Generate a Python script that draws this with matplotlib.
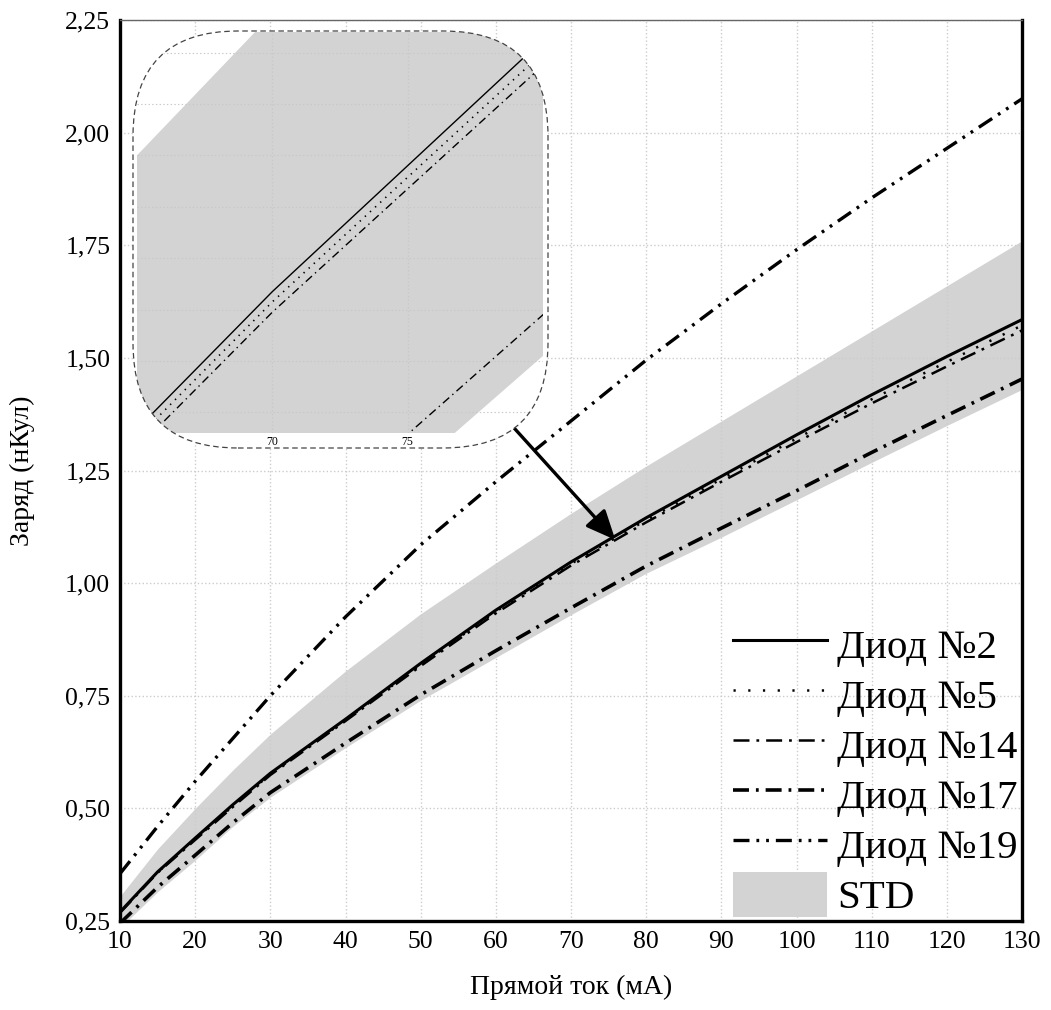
import matplotlib
matplotlib.use("Agg")
import matplotlib.pyplot as plt
from matplotlib.patches import FancyBboxPatch
from matplotlib.ticker import FuncFormatter, MultipleLocator

plt.rcParams["font.family"] = ["Liberation Serif", "DejaVu Serif"]
plt.rcParams["lines.scale_dashes"] = False

# forward current, mA
current_ma = [10, 15, 20, 25, 30, 40, 50, 60, 70, 80, 90, 100, 110, 120, 130]

# recovered charge, nC
diode_2 = [0.270, 0.359, 0.434, 0.508, 0.578, 0.698, 0.822, 0.940, 1.047, 1.145, 1.237, 1.329, 1.418, 1.503, 1.585]
diode_5 = [0.270, 0.358, 0.432, 0.505, 0.576, 0.696, 0.819, 0.937, 1.043, 1.140, 1.231, 1.321, 1.408, 1.491, 1.572]
diode_14 = [0.268, 0.357, 0.430, 0.503, 0.574, 0.694, 0.816, 0.933, 1.039, 1.135, 1.225, 1.313, 1.399, 1.481, 1.561]
diode_17 = [0.245, 0.325, 0.396, 0.468, 0.535, 0.645, 0.752, 0.850, 0.945, 1.038, 1.122, 1.205, 1.290, 1.372, 1.453]
diode_19 = [0.355, 0.460, 0.560, 0.655, 0.750, 0.925, 1.085, 1.225, 1.360, 1.495, 1.620, 1.740, 1.855, 1.965, 2.075]

std_upper = [0.305, 0.410, 0.500, 0.585, 0.665, 0.805, 0.932, 1.045, 1.155, 1.260, 1.360, 1.460, 1.560, 1.660, 1.760]
std_lower = [0.235, 0.315, 0.385, 0.460, 0.525, 0.635, 0.740, 0.835, 0.930, 1.022, 1.102, 1.185, 1.268, 1.350, 1.430]

series = [
    ("Диод №2", diode_2, dict(ls="-", lw=2.2)),
    ("Диод №5", diode_5, dict(ls=(0, (1.6, 9.0)), lw=1.8)),
    ("Диод №14", diode_14, dict(ls=(0, (11.5, 5.0, 2.0, 5.0)), lw=1.8)),
    ("Диод №17", diode_17, dict(ls=(0, (11.5, 5.0, 2.0, 5.0)), lw=2.6)),
    ("Диод №19", diode_19, dict(ls=(0, (11.5, 5.0, 2.0, 5.0, 2.0, 5.0)), lw=2.4)),
]

# thinner versions for the magnified view
inset_styles = {
    "Диод №2": dict(ls="-", lw=1.0),
    "Диод №5": dict(ls=(0, (1.0, 4.0)), lw=1.2),
    "Диод №14": dict(ls=(0, (6.0, 3.0, 1.0, 3.0)), lw=1.0),
    "Диод №17": dict(ls=(0, (6.0, 3.0, 1.0, 3.0)), lw=1.0),
    "Диод №19": dict(ls=(0, (6.0, 3.0, 1.0, 3.0, 1.0, 3.0)), lw=1.0),
}

comma = FuncFormatter(lambda v, pos: f"{v:.2f}".replace(".", ","))

W, H = 1051, 1010
fig = plt.figure(figsize=(W / 100, H / 100), dpi=100)
ax = fig.add_axes([120 / W, 1 - 921 / H, 902 / W, 901 / H])

band = ax.fill_between(current_ma, std_lower, std_upper, color="#d3d3d3",
                       lw=0, label="STD", zorder=1)
handles = []
for name, values, style in series:
    (ln,) = ax.plot(current_ma, values, color="black", label=name, zorder=3,
                    **style)
    handles.append(ln)
handles.append(band)

ax.set_xlim(10, 130)
ax.set_ylim(0.25, 2.25)
ax.xaxis.set_major_locator(MultipleLocator(10))
ax.yaxis.set_major_locator(MultipleLocator(0.25))
ax.yaxis.set_major_formatter(comma)
ax.tick_params(length=0, labelsize=18.5, pad=7)
ax.set_axisbelow("line")
ax.grid(True, color="#cccccc", ls=":", lw=1.0)
for side in ("left", "bottom", "right"):
    ax.spines[side].set_linewidth(2.4)
ax.spines["top"].set_linewidth(1.0)
ax.spines["top"].set_color("#666666")

ax.set_xlabel("Прямой ток (мА)", fontsize=20, labelpad=16)
ax.set_ylabel("Заряд (нКул)", fontsize=20, labelpad=22)

ax.legend(handles=handles, loc="lower right", bbox_to_anchor=(1.0, 0.0),
          frameon=False, fontsize=29.5, handlelength=2.3, handleheight=1.3,
          handletextpad=0.25, labelspacing=0.12, borderaxespad=0.05,
          borderpad=0.05)

# arrow from the magnified view down to the region it shows
ax.annotate("", xy=(75.9, 1.096), xytext=(61.2, 1.367),
            arrowprops=dict(arrowstyle="-|>,head_length=0.9,head_width=0.4",
                            mutation_scale=20, lw=2.4, color="black",
                            shrinkA=0, shrinkB=0), zorder=6)

# magnified view, clipped to a rounded frame
axin = fig.add_axes([137 / W, 1 - 433 / H, 406 / W, 401 / H])
axin.patch.set_visible(False)
frame_box = dict(boxstyle="round,pad=0,rounding_size=1.05",
                 transform=fig.dpi_scale_trans)
clip = FancyBboxPatch((1.33, (H - 448) / 100), 4.15, 4.17,
                      facecolor="white", edgecolor="none", zorder=0,
                      clip_on=False, **frame_box)
axin.add_patch(clip)
border = FancyBboxPatch((1.33, (H - 448) / 100), 4.15, 4.17,
                        facecolor="none", edgecolor="#444444", ls=(0, (4, 2.5)),
                        lw=0.9, zorder=5, clip_on=False, **frame_box)
axin.add_patch(border)

fill_in = axin.fill_between(current_ma, std_lower, std_upper, color="#d3d3d3",
                            lw=0, zorder=1)
fill_in.set_clip_path(clip)
for name, values, _ in series:
    (ln,) = axin.plot(current_ma, values, color="black", zorder=3,
                      **inset_styles[name])
    ln.set_clip_path(clip)

axin.set_xlim(65, 80)
axin.set_ylim(0.992, 1.148)
axin.set_xticks([70, 75])
axin.yaxis.set_major_locator(MultipleLocator(0.02))
axin.tick_params(length=0, labelsize=8.5, pad=2, labelleft=False)
for s in axin.spines.values():
    s.set_visible(False)
axin.set_axisbelow("line")
axin.grid(True, color="#c8c8c8", ls=":", lw=0.8)
for gl in axin.get_xgridlines() + axin.get_ygridlines():
    gl.set_clip_path(clip)

fig.savefig("out.png", dpi=100)
